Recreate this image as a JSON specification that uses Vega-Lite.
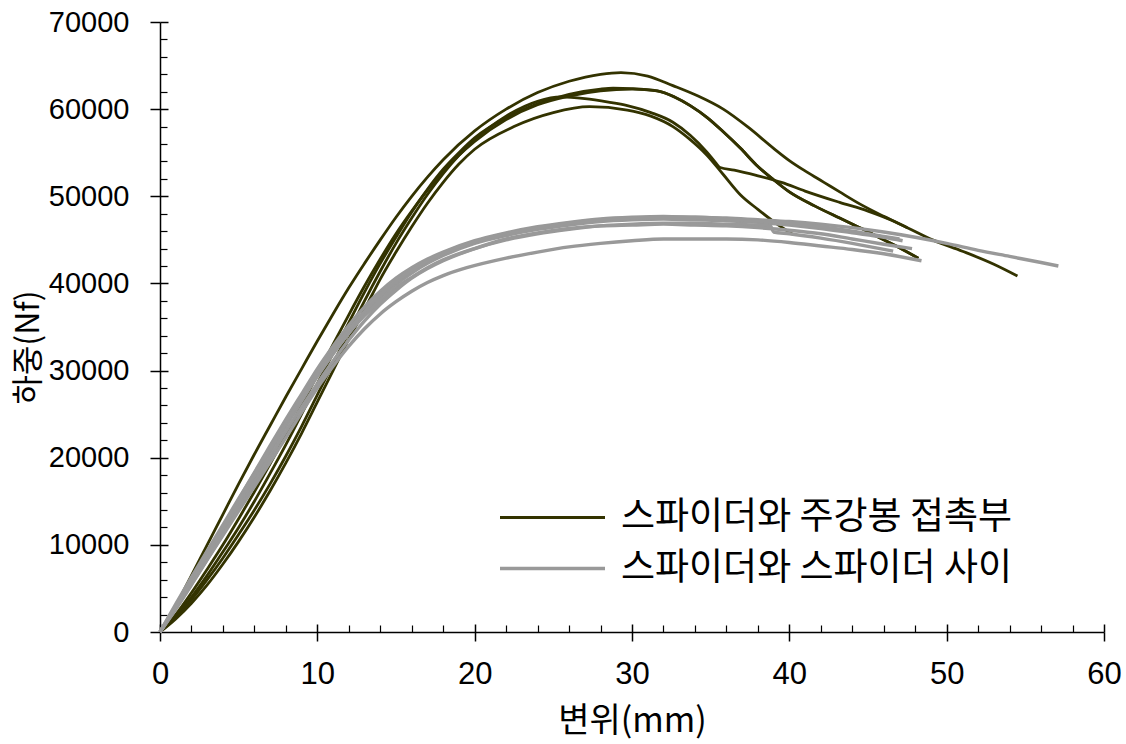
{
"$schema":"https://vega.github.io/schema/vega-lite/v6.json",
"width":944,"height":610,
"autosize":{"type":"none"},
"padding":{"left":160,"top":22,"right":22,"bottom":112},
"background":"white",
"config":{"view":{"stroke":null},"axis":{"grid":false,"domainColor":"#000","tickColor":"#000","labelColor":"#000","titleColor":"#000"}},
"data":{"values":[
{"c":"A","t":"d","x":0,"y":0},{"c":"A","t":"d","x":1,"y":3000},{"c":"A","t":"d","x":2,"y":6500},{"c":"A","t":"d","x":3,"y":10000},{"c":"A","t":"d","x":4,"y":13500},{"c":"A","t":"d","x":5,"y":17000},{"c":"A","t":"d","x":6,"y":20400},{"c":"A","t":"d","x":7,"y":23700},{"c":"A","t":"d","x":8,"y":27000},{"c":"A","t":"d","x":9,"y":30200},{"c":"A","t":"d","x":10,"y":33400},{"c":"A","t":"d","x":11,"y":36500},{"c":"A","t":"d","x":12,"y":39500},{"c":"A","t":"d","x":13,"y":42300},{"c":"A","t":"d","x":14,"y":45000},{"c":"A","t":"d","x":15,"y":47600},{"c":"A","t":"d","x":16,"y":50000},{"c":"A","t":"d","x":17,"y":52200},{"c":"A","t":"d","x":18,"y":54200},{"c":"A","t":"d","x":20,"y":57500},{"c":"A","t":"d","x":22,"y":60000},{"c":"A","t":"d","x":24,"y":61900},{"c":"A","t":"d","x":26,"y":63200},{"c":"A","t":"d","x":28,"y":64000},{"c":"A","t":"d","x":29.3,"y":64200},{"c":"A","t":"d","x":31,"y":63800},{"c":"A","t":"d","x":32.6,"y":62700},{"c":"A","t":"d","x":34.2,"y":61500},{"c":"A","t":"d","x":35.8,"y":60000},{"c":"A","t":"d","x":37.4,"y":57900},{"c":"A","t":"d","x":39,"y":55500},{"c":"A","t":"d","x":40,"y":54100},{"c":"A","t":"d","x":41.1,"y":52800},{"c":"A","t":"d","x":42.2,"y":51600},{"c":"A","t":"d","x":43.2,"y":50500},{"c":"A","t":"d","x":44.5,"y":49100},{"c":"A","t":"d","x":46,"y":47700},{"c":"A","t":"d","x":47.5,"y":46400},{"c":"A","t":"d","x":49.1,"y":45000},{"c":"A","t":"d","x":51,"y":43700},{"c":"A","t":"d","x":53,"y":42200},{"c":"A","t":"d","x":54.5,"y":40850},
{"c":"B","t":"d","x":0,"y":0},{"c":"B","t":"d","x":1,"y":1800},{"c":"B","t":"d","x":2,"y":4000},{"c":"B","t":"d","x":3,"y":6500},{"c":"B","t":"d","x":4,"y":9200},{"c":"B","t":"d","x":5,"y":12000},{"c":"B","t":"d","x":6,"y":15000},{"c":"B","t":"d","x":7,"y":18200},{"c":"B","t":"d","x":8,"y":21500},{"c":"B","t":"d","x":9,"y":25000},{"c":"B","t":"d","x":10,"y":28500},{"c":"B","t":"d","x":11,"y":32000},{"c":"B","t":"d","x":12,"y":35500},{"c":"B","t":"d","x":13,"y":39000},{"c":"B","t":"d","x":14,"y":42300},{"c":"B","t":"d","x":15,"y":45300},{"c":"B","t":"d","x":16,"y":48200},{"c":"B","t":"d","x":17,"y":50800},{"c":"B","t":"d","x":18,"y":53100},{"c":"B","t":"d","x":19,"y":55000},{"c":"B","t":"d","x":20,"y":56700},{"c":"B","t":"d","x":22,"y":59000},{"c":"B","t":"d","x":24,"y":60600},{"c":"B","t":"d","x":26,"y":61700},{"c":"B","t":"d","x":28,"y":62300},{"c":"B","t":"d","x":28.8,"y":62400},{"c":"B","t":"d","x":30,"y":62350},{"c":"B","t":"d","x":31.6,"y":62100},{"c":"B","t":"d","x":32.7,"y":61400},{"c":"B","t":"d","x":33.7,"y":60400},{"c":"B","t":"d","x":34.8,"y":59000},{"c":"B","t":"d","x":35.8,"y":57400},{"c":"B","t":"d","x":36.9,"y":55500},{"c":"B","t":"d","x":37.9,"y":53600},{"c":"B","t":"d","x":39,"y":51900},{"c":"B","t":"d","x":40,"y":50500},{"c":"B","t":"d","x":41.6,"y":48900},{"c":"B","t":"d","x":43.2,"y":47500},{"c":"B","t":"d","x":44.6,"y":46300},{"c":"B","t":"d","x":46,"y":45000},{"c":"B","t":"d","x":47.2,"y":43900},{"c":"B","t":"d","x":48.2,"y":42880},
{"c":"D","t":"d","x":0,"y":0},{"c":"D","t":"d","x":1,"y":1700},{"c":"D","t":"d","x":2,"y":3700},{"c":"D","t":"d","x":3,"y":6000},{"c":"D","t":"d","x":4,"y":8500},{"c":"D","t":"d","x":5,"y":11200},{"c":"D","t":"d","x":6,"y":14000},{"c":"D","t":"d","x":7,"y":17000},{"c":"D","t":"d","x":8,"y":20200},{"c":"D","t":"d","x":9,"y":23600},{"c":"D","t":"d","x":10,"y":27200},{"c":"D","t":"d","x":11,"y":30800},{"c":"D","t":"d","x":12,"y":34400},{"c":"D","t":"d","x":13,"y":38000},{"c":"D","t":"d","x":14,"y":41400},{"c":"D","t":"d","x":15,"y":44600},{"c":"D","t":"d","x":16,"y":47500},{"c":"D","t":"d","x":17,"y":50200},{"c":"D","t":"d","x":18,"y":52600},{"c":"D","t":"d","x":19,"y":54700},{"c":"D","t":"d","x":20,"y":56500},{"c":"D","t":"d","x":22,"y":59200},{"c":"D","t":"d","x":24,"y":60900},{"c":"D","t":"d","x":25.5,"y":61400},{"c":"D","t":"d","x":27,"y":61200},{"c":"D","t":"d","x":28.5,"y":60800},{"c":"D","t":"d","x":29.7,"y":60400},{"c":"D","t":"d","x":31.2,"y":59600},{"c":"D","t":"d","x":32.6,"y":58500},{"c":"D","t":"d","x":33.7,"y":57000},{"c":"D","t":"d","x":34.75,"y":55100},{"c":"D","t":"d","x":35.3,"y":53900},{"c":"D","t":"d","x":35.6,"y":53300},{"c":"D","t":"d","x":36.5,"y":53000},{"c":"D","t":"d","x":37.9,"y":52400},{"c":"D","t":"d","x":39.5,"y":51600},{"c":"D","t":"d","x":41,"y":50600},{"c":"D","t":"d","x":43.2,"y":49300},{"c":"D","t":"d","x":45,"y":48300},{"c":"D","t":"d","x":46.5,"y":47250},{"c":"D","t":"d","x":47.5,"y":46400},
{"c":"E","t":"d","x":0,"y":0},{"c":"E","t":"d","x":1,"y":1500},{"c":"E","t":"d","x":2,"y":3300},{"c":"E","t":"d","x":3,"y":5400},{"c":"E","t":"d","x":4,"y":7800},{"c":"E","t":"d","x":5,"y":10400},{"c":"E","t":"d","x":6,"y":13200},{"c":"E","t":"d","x":7,"y":16200},{"c":"E","t":"d","x":8,"y":19400},{"c":"E","t":"d","x":9,"y":22800},{"c":"E","t":"d","x":10,"y":26400},{"c":"E","t":"d","x":11,"y":30000},{"c":"E","t":"d","x":12,"y":33600},{"c":"E","t":"d","x":13,"y":37000},{"c":"E","t":"d","x":14,"y":40500},{"c":"E","t":"d","x":15,"y":43600},{"c":"E","t":"d","x":16,"y":46500},{"c":"E","t":"d","x":17,"y":49200},{"c":"E","t":"d","x":18,"y":51600},{"c":"E","t":"d","x":19,"y":53700},{"c":"E","t":"d","x":20,"y":55400},{"c":"E","t":"d","x":22.5,"y":58000},{"c":"E","t":"d","x":25,"y":59600},{"c":"E","t":"d","x":27.3,"y":60280},{"c":"E","t":"d","x":29.7,"y":59900},{"c":"E","t":"d","x":31.2,"y":59200},{"c":"E","t":"d","x":32.6,"y":58000},{"c":"E","t":"d","x":33.7,"y":56500},{"c":"E","t":"d","x":34.75,"y":54740},{"c":"E","t":"d","x":35.8,"y":52500},{"c":"E","t":"d","x":36.9,"y":50150},{"c":"E","t":"d","x":38,"y":48500},{"c":"E","t":"d","x":39,"y":47100},{"c":"E","t":"d","x":40.25,"y":45600},
{"c":"F","t":"d","x":0,"y":0},{"c":"F","t":"d","x":1,"y":2000},{"c":"F","t":"d","x":2,"y":4500},{"c":"F","t":"d","x":3,"y":7200},{"c":"F","t":"d","x":4,"y":10000},{"c":"F","t":"d","x":5,"y":13000},{"c":"F","t":"d","x":6,"y":16100},{"c":"F","t":"d","x":7,"y":19300},{"c":"F","t":"d","x":8,"y":22600},{"c":"F","t":"d","x":9,"y":26000},{"c":"F","t":"d","x":10,"y":29500},{"c":"F","t":"d","x":11,"y":33000},{"c":"F","t":"d","x":12,"y":36400},{"c":"F","t":"d","x":13,"y":39700},{"c":"F","t":"d","x":14,"y":42800},{"c":"F","t":"d","x":15,"y":45700},{"c":"F","t":"d","x":16,"y":48300},{"c":"F","t":"d","x":17,"y":50700},{"c":"F","t":"d","x":18,"y":52800},{"c":"F","t":"d","x":19,"y":54700},{"c":"F","t":"d","x":20,"y":56300},{"c":"F","t":"d","x":22,"y":58800},{"c":"F","t":"d","x":24,"y":60500},{"c":"F","t":"d","x":26,"y":61500},{"c":"F","t":"d","x":28,"y":62100},{"c":"F","t":"d","x":30,"y":62300},{"c":"F","t":"d","x":31.6,"y":62100},{"c":"F","t":"d","x":32.7,"y":61400},{"c":"F","t":"d","x":33.7,"y":60400},{"c":"F","t":"d","x":34.8,"y":59000},{"c":"F","t":"d","x":35.8,"y":57400},{"c":"F","t":"d","x":36.9,"y":55500},{"c":"F","t":"d","x":37.9,"y":53600},{"c":"F","t":"d","x":39,"y":51900},{"c":"F","t":"d","x":40,"y":50500},{"c":"F","t":"d","x":41.6,"y":48900},{"c":"F","t":"d","x":43.2,"y":47500},{"c":"F","t":"d","x":44.6,"y":46300},{"c":"F","t":"d","x":46,"y":45000},{"c":"F","t":"d","x":47.2,"y":43900},{"c":"F","t":"d","x":48.2,"y":42900},
{"c":"G1","t":"g","x":0,"y":0},{"c":"G1","t":"g","x":1,"y":3000},{"c":"G1","t":"g","x":2,"y":6000},{"c":"G1","t":"g","x":3,"y":9000},{"c":"G1","t":"g","x":4,"y":12000},{"c":"G1","t":"g","x":5,"y":15200},{"c":"G1","t":"g","x":6,"y":18300},{"c":"G1","t":"g","x":7,"y":21400},{"c":"G1","t":"g","x":8,"y":24400},{"c":"G1","t":"g","x":9,"y":27300},{"c":"G1","t":"g","x":10,"y":30200},{"c":"G1","t":"g","x":11,"y":32800},{"c":"G1","t":"g","x":12,"y":35200},{"c":"G1","t":"g","x":13,"y":37300},{"c":"G1","t":"g","x":14,"y":39100},{"c":"G1","t":"g","x":15,"y":40600},{"c":"G1","t":"g","x":16,"y":41800},{"c":"G1","t":"g","x":17,"y":42800},{"c":"G1","t":"g","x":18,"y":43600},{"c":"G1","t":"g","x":20,"y":44900},{"c":"G1","t":"g","x":22,"y":45800},{"c":"G1","t":"g","x":24,"y":46500},{"c":"G1","t":"g","x":26,"y":47000},{"c":"G1","t":"g","x":28,"y":47400},{"c":"G1","t":"g","x":30,"y":47600},{"c":"G1","t":"g","x":32,"y":47700},{"c":"G1","t":"g","x":34,"y":47600},{"c":"G1","t":"g","x":36,"y":47500},{"c":"G1","t":"g","x":38,"y":47300},{"c":"G1","t":"g","x":40,"y":47100},{"c":"G1","t":"g","x":42,"y":46800},{"c":"G1","t":"g","x":44,"y":46400},{"c":"G1","t":"g","x":46,"y":45900},{"c":"G1","t":"g","x":48,"y":45300},{"c":"G1","t":"g","x":50,"y":44600},{"c":"G1","t":"g","x":52,"y":43800},{"c":"G1","t":"g","x":54,"y":43100},{"c":"G1","t":"g","x":56,"y":42400},{"c":"G1","t":"g","x":57.1,"y":42000},
{"c":"G2","t":"g","x":0,"y":0},{"c":"G2","t":"g","x":1,"y":2800},{"c":"G2","t":"g","x":2,"y":5700},{"c":"G2","t":"g","x":3,"y":8700},{"c":"G2","t":"g","x":4,"y":11700},{"c":"G2","t":"g","x":5,"y":14700},{"c":"G2","t":"g","x":6,"y":17700},{"c":"G2","t":"g","x":7,"y":20700},{"c":"G2","t":"g","x":8,"y":23600},{"c":"G2","t":"g","x":9,"y":26500},{"c":"G2","t":"g","x":10,"y":29300},{"c":"G2","t":"g","x":11,"y":31900},{"c":"G2","t":"g","x":12,"y":34300},{"c":"G2","t":"g","x":13,"y":36500},{"c":"G2","t":"g","x":14,"y":38400},{"c":"G2","t":"g","x":15,"y":39900},{"c":"G2","t":"g","x":16,"y":41200},{"c":"G2","t":"g","x":17,"y":42300},{"c":"G2","t":"g","x":18,"y":43200},{"c":"G2","t":"g","x":20,"y":44600},{"c":"G2","t":"g","x":22,"y":45500},{"c":"G2","t":"g","x":24,"y":46200},{"c":"G2","t":"g","x":26,"y":46700},{"c":"G2","t":"g","x":28,"y":47100},{"c":"G2","t":"g","x":30,"y":47300},{"c":"G2","t":"g","x":32,"y":47400},{"c":"G2","t":"g","x":34,"y":47300},{"c":"G2","t":"g","x":36,"y":47200},{"c":"G2","t":"g","x":38,"y":47000},{"c":"G2","t":"g","x":40,"y":46700},{"c":"G2","t":"g","x":42,"y":46300},{"c":"G2","t":"g","x":44,"y":45800},{"c":"G2","t":"g","x":46,"y":45300},{"c":"G2","t":"g","x":47.2,"y":44900},
{"c":"G3","t":"g","x":0,"y":0},{"c":"G3","t":"g","x":1,"y":3200},{"c":"G3","t":"g","x":2,"y":6300},{"c":"G3","t":"g","x":3,"y":9300},{"c":"G3","t":"g","x":4,"y":12300},{"c":"G3","t":"g","x":5,"y":15300},{"c":"G3","t":"g","x":6,"y":18200},{"c":"G3","t":"g","x":7,"y":21100},{"c":"G3","t":"g","x":8,"y":24000},{"c":"G3","t":"g","x":9,"y":26800},{"c":"G3","t":"g","x":10,"y":29500},{"c":"G3","t":"g","x":11,"y":32000},{"c":"G3","t":"g","x":12,"y":34300},{"c":"G3","t":"g","x":13,"y":36300},{"c":"G3","t":"g","x":14,"y":38000},{"c":"G3","t":"g","x":15,"y":39500},{"c":"G3","t":"g","x":16,"y":40700},{"c":"G3","t":"g","x":17,"y":41800},{"c":"G3","t":"g","x":18,"y":42700},{"c":"G3","t":"g","x":20,"y":44000},{"c":"G3","t":"g","x":22,"y":45000},{"c":"G3","t":"g","x":24,"y":45700},{"c":"G3","t":"g","x":26,"y":46200},{"c":"G3","t":"g","x":28,"y":46600},{"c":"G3","t":"g","x":30,"y":46800},{"c":"G3","t":"g","x":32,"y":46900},{"c":"G3","t":"g","x":34,"y":46900},{"c":"G3","t":"g","x":36,"y":46800},{"c":"G3","t":"g","x":38.8,"y":46600},{"c":"G3","t":"g","x":39,"y":45900},{"c":"G3","t":"g","x":40,"y":45700},{"c":"G3","t":"g","x":42,"y":45200},{"c":"G3","t":"g","x":44,"y":44600},{"c":"G3","t":"g","x":46.6,"y":43700},
{"c":"G4","t":"g","x":0,"y":0},{"c":"G4","t":"g","x":1,"y":2600},{"c":"G4","t":"g","x":2,"y":5400},{"c":"G4","t":"g","x":3,"y":8300},{"c":"G4","t":"g","x":4,"y":11200},{"c":"G4","t":"g","x":5,"y":14200},{"c":"G4","t":"g","x":6,"y":17200},{"c":"G4","t":"g","x":7,"y":20100},{"c":"G4","t":"g","x":8,"y":23000},{"c":"G4","t":"g","x":9,"y":25800},{"c":"G4","t":"g","x":10,"y":28500},{"c":"G4","t":"g","x":11,"y":31100},{"c":"G4","t":"g","x":12,"y":33500},{"c":"G4","t":"g","x":13,"y":35700},{"c":"G4","t":"g","x":14,"y":37600},{"c":"G4","t":"g","x":15,"y":39200},{"c":"G4","t":"g","x":16,"y":40600},{"c":"G4","t":"g","x":17,"y":41700},{"c":"G4","t":"g","x":18,"y":42600},{"c":"G4","t":"g","x":20,"y":44000},{"c":"G4","t":"g","x":22,"y":45100},{"c":"G4","t":"g","x":24,"y":45800},{"c":"G4","t":"g","x":26,"y":46300},{"c":"G4","t":"g","x":28,"y":46600},{"c":"G4","t":"g","x":30,"y":46700},{"c":"G4","t":"g","x":32,"y":46800},{"c":"G4","t":"g","x":34,"y":46700},{"c":"G4","t":"g","x":36,"y":46600},{"c":"G4","t":"g","x":38,"y":46400},{"c":"G4","t":"g","x":40,"y":46100},{"c":"G4","t":"g","x":42,"y":45700},{"c":"G4","t":"g","x":44,"y":45100},{"c":"G4","t":"g","x":46,"y":44500},{"c":"G4","t":"g","x":47.8,"y":44000},
{"c":"G5","t":"g","x":0,"y":0},{"c":"G5","t":"g","x":1,"y":2700},{"c":"G5","t":"g","x":2,"y":5500},{"c":"G5","t":"g","x":3,"y":8300},{"c":"G5","t":"g","x":4,"y":11100},{"c":"G5","t":"g","x":5,"y":13900},{"c":"G5","t":"g","x":6,"y":16700},{"c":"G5","t":"g","x":7,"y":19500},{"c":"G5","t":"g","x":8,"y":22300},{"c":"G5","t":"g","x":9,"y":25200},{"c":"G5","t":"g","x":10,"y":28000},{"c":"G5","t":"g","x":11,"y":30500},{"c":"G5","t":"g","x":12,"y":32800},{"c":"G5","t":"g","x":13,"y":34800},{"c":"G5","t":"g","x":14,"y":36500},{"c":"G5","t":"g","x":15,"y":37900},{"c":"G5","t":"g","x":16,"y":39100},{"c":"G5","t":"g","x":17,"y":40100},{"c":"G5","t":"g","x":18,"y":40900},{"c":"G5","t":"g","x":19.5,"y":41800},{"c":"G5","t":"g","x":22,"y":42900},{"c":"G5","t":"g","x":24,"y":43600},{"c":"G5","t":"g","x":26,"y":44200},{"c":"G5","t":"g","x":28,"y":44600},{"c":"G5","t":"g","x":30,"y":44900},{"c":"G5","t":"g","x":32,"y":45100},{"c":"G5","t":"g","x":34,"y":45100},{"c":"G5","t":"g","x":36,"y":45100},{"c":"G5","t":"g","x":38,"y":45000},{"c":"G5","t":"g","x":40,"y":44700},{"c":"G5","t":"g","x":42,"y":44300},{"c":"G5","t":"g","x":44,"y":43900},{"c":"G5","t":"g","x":46,"y":43400},{"c":"G5","t":"g","x":48.4,"y":42600},
{"c":"G6","t":"g","x":0,"y":0},{"c":"G6","t":"g","x":1,"y":2900},{"c":"G6","t":"g","x":2,"y":5900},{"c":"G6","t":"g","x":3,"y":8900},{"c":"G6","t":"g","x":4,"y":11900},{"c":"G6","t":"g","x":5,"y":15000},{"c":"G6","t":"g","x":6,"y":18000},{"c":"G6","t":"g","x":7,"y":21000},{"c":"G6","t":"g","x":8,"y":24000},{"c":"G6","t":"g","x":9,"y":26900},{"c":"G6","t":"g","x":10,"y":29700},{"c":"G6","t":"g","x":11,"y":32300},{"c":"G6","t":"g","x":12,"y":34700},{"c":"G6","t":"g","x":13,"y":36800},{"c":"G6","t":"g","x":14,"y":38700},{"c":"G6","t":"g","x":15,"y":40200},{"c":"G6","t":"g","x":16,"y":41500},{"c":"G6","t":"g","x":17,"y":42600},{"c":"G6","t":"g","x":18,"y":43500},{"c":"G6","t":"g","x":20,"y":44800},{"c":"G6","t":"g","x":22,"y":45700},{"c":"G6","t":"g","x":24,"y":46400},{"c":"G6","t":"g","x":26,"y":46900},{"c":"G6","t":"g","x":28,"y":47300},{"c":"G6","t":"g","x":30,"y":47500},{"c":"G6","t":"g","x":32,"y":47600},{"c":"G6","t":"g","x":34,"y":47600},{"c":"G6","t":"g","x":36,"y":47400},{"c":"G6","t":"g","x":38,"y":47200},{"c":"G6","t":"g","x":40,"y":46900},{"c":"G6","t":"g","x":42,"y":46500},{"c":"G6","t":"g","x":44,"y":46000},{"c":"G6","t":"g","x":46,"y":45400},{"c":"G6","t":"g","x":47,"y":45100}
]},
"layer":[
{"mark":{"type":"line","interpolate":"monotone"},
 "encoding":{
  "x":{"field":"x","type":"quantitative","scale":{"domain":[0,60],"nice":false},
    "axis":{"orient":"bottom","values":[0,10,20,30,40,50,60],"tickSize":9,"tickWidth":1.5,"domainWidth":1.5,"labelFont":"Liberation Sans","labelFontSize":31,"labelPadding":18,"labelFlush":false,"title":"변위(mm)","titleFont":"Noto Sans CJK KR","titleFontSize":34,"titleFontWeight":"normal","titleY":89,"titleBaseline":"middle"}},
  "y":{"field":"y","type":"quantitative","scale":{"domain":[0,70000],"nice":false},
    "axis":{"orient":"left","values":[0,10000,20000,30000,40000,50000,60000,70000],"format":"d","tickSize":10,"tickWidth":1.5,"domainWidth":1.5,"labelFont":"Liberation Sans","labelFontSize":29,"labelPadding":21,"labelFlush":false,"title":"하중(Nf)","titleFont":"Noto Sans CJK KR","titleFontSize":32,"titleFontWeight":"normal","titleX":-132,"titleY":325,"titleAngle":270,"titleAlign":"center","titleBaseline":"middle"}},
  "color":{"field":"t","type":"nominal","scale":{"domain":["d","g"],"range":["#333300","#999999"]},
    "legend":{"orient":"none","legendX":374,"legendY":477,"title":null,"symbolType":"M-3.5,0H3.5","symbolSize":900,"symbolStrokeWidth":4,"labelFont":"Noto Sans CJK KR","labelFontSize":37,"labelColor":"#000","labelOffset":50,"labelLimit":0,"rowPadding":13,"padding":0,
      "labelExpr":"datum.value == 'd' ? '스파이더와 주강봉 접촉부' : '스파이더와 스파이더 사이'",
      "encode":{"symbols":{"update":{"stroke":[{"test":"datum.value == 'd'","value":"#000000"},{"value":"#999999"}]}}}}},
  "strokeWidth":{"field":"t","type":"nominal","scale":{"domain":["d","g"],"range":[2.8,3.4]},"legend":null},
  "detail":{"field":"c","type":"nominal"}
 }},
{"mark":{"type":"point","opacity":0},
 "encoding":{
  "x":{"field":"x","type":"quantitative","axis":{"orient":"bottom","values":[2,4,6,8,12,14,16,18,22,24,26,28,32,34,36,38,42,44,46,48,52,54,56,58],"tickSize":-7,"tickWidth":1.2,"labels":false,"domain":false,"title":null}},
  "y":{"field":"y","type":"quantitative","axis":{"orient":"left","values":[2000,4000,6000,8000,12000,14000,16000,18000,22000,24000,26000,28000,32000,34000,36000,38000,42000,44000,46000,48000,52000,54000,56000,58000,62000,64000,66000,68000],"tickSize":-7,"tickWidth":1.2,"labels":false,"domain":false,"title":null}}
 }},
{"mark":{"type":"point","opacity":0},
 "encoding":{
  "x":{"field":"x","type":"quantitative","axis":{"orient":"bottom","values":[0,10,20,30,40,50,60],"tickSize":-8,"tickWidth":1.5,"labels":false,"domain":false,"title":null}},
  "y":{"field":"y","type":"quantitative","axis":{"orient":"left","values":[10000,20000,30000,40000,50000,60000,70000],"tickSize":-8,"tickWidth":1.5,"labels":false,"domain":false,"title":null}}
 }}
],
"resolve":{"axis":{"x":"independent","y":"independent"}}
}
